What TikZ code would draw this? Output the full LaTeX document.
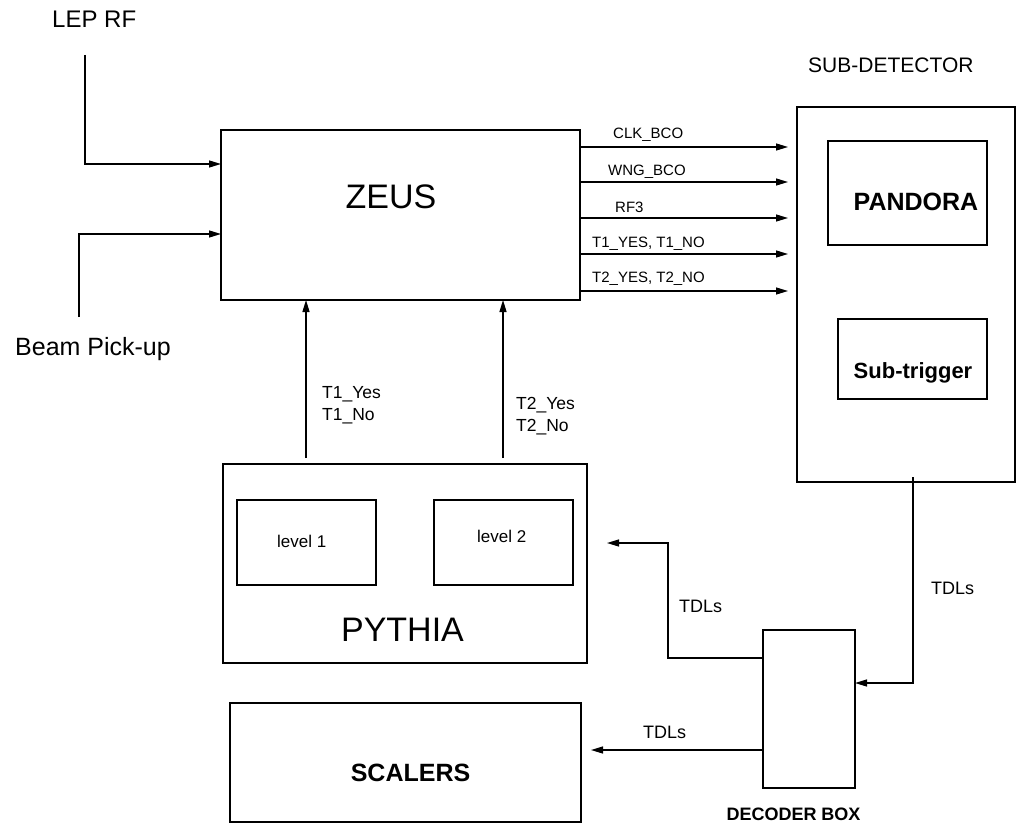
\documentclass[tikz,border=0pt]{standalone}
\usepackage{fontspec}
\setmainfont{Liberation Sans}
\usetikzlibrary{arrows.meta,calc}
\newcommand\fsz[1]{\fontsize{#1}{#1}\selectfont}

\begin{document}
\begin{tikzpicture}[x=1pt,y=-1pt,
  box/.style={draw, line width=1.3pt, inner sep=0pt, outer sep=0pt},
  wire/.style={line width=1.3pt},
  arr/.style={wire, -{Triangle[length=12pt,width=7pt]}},
  txt/.style={inner sep=0pt, anchor=base west},
  ctxt/.style={inner sep=0pt, anchor=base},
  sig/.style={txt, font=\fsz{15}},
  lbl/.style={txt, font=\fsz{17.5}},
  big/.style={ctxt, font=\fsz{34}},
  bold/.style={ctxt, font=\bfseries\fsz{25}}]
\useasboundingbox (0,0) rectangle (1016,832);

% blocks
\node[box, minimum width=359pt, minimum height=170pt] (zeus) at (400.5,215) {};
\node[box, minimum width=218pt, minimum height=375pt] (sub) at (906,294.5) {};
\node[box, minimum width=159pt, minimum height=104pt] (pandora) at (907.5,193) {};
\node[box, minimum width=149pt, minimum height=80pt] (subtrig) at (912.5,359) {};
\node[box, minimum width=364pt, minimum height=199pt] (pythia) at (405,563.5) {};
\node[box, minimum width=139pt, minimum height=85pt] (lvlone) at (306.5,542.5) {};
\node[box, minimum width=139pt, minimum height=85pt] (lvltwo) at (503.5,542.5) {};
\node[box, minimum width=351pt, minimum height=119pt] (scalers) at (405.5,762.5) {};
\node[box, minimum width=92pt, minimum height=158pt] (decoder) at (809,709) {};

% block texts
\node[big] (zeusT) at (391,208) {ZEUS};
\node[big] (pythiaT) at (402.5,641) {PYTHIA};
\node[bold] (pandoraT) at (916,210) {PANDORA};
\node[bold] (scalersT) at (410.5,781) {SCALERS};
\node[ctxt, font=\bfseries\fsz{22}] (subtrigT) at (913,378) {Sub-trigger};
\node[ctxt, font=\bfseries\fsz{18}] (decoderT) at (793.5,820) {DECODER BOX};
\node[txt, font=\fsz{17}] (lvloneT) at (277,547) {level 1};
\node[txt, font=\fsz{17}] (lvltwoT) at (477,542) {level 2};
\node[txt, font=\fsz{21}] (subT) at (808,73) {SUB-DETECTOR};
\node[txt, font=\fsz{24}] (lepT) at (52,28) {LEP RF};
\node[txt, font=\fsz{25}] (beamT) at (15,355) {Beam Pick-up};

% external inputs to ZEUS
\coordinate (lepsrc) at (85,55);
\coordinate (beamsrc) at (79,317);
\draw[arr] (lepsrc) |- ($(zeus.north west)+(0,34)$);
\draw[arr] (beamsrc) |- ($(zeus.north west)+(0,104)$);

% ZEUS outputs towards the sub-detector
\foreach \yy/\nm in {147/oa,182/ob,218/oc,254/od,291/oe}{
  \coordinate (\nm) at ($(sub.north west)+(-9,\yy-107)$);
  \draw[arr] (zeus.east |- \nm) -- (\nm);
}
\node[sig] (clk) at (613,139) {CLK\_BCO};
\node[sig] (wng) at (608,175) {WNG\_BCO};
\node[sig] (rf3) at (615,212) {RF3};
\node[sig] (tone) at (592,247) {T1\_YES, T1\_NO};
\node[sig] (ttwo) at (592,282) {T2\_YES, T2\_NO};

% PYTHIA decisions up to ZEUS
\coordinate (upa) at ($(pythia.north west)+(83,-6)$);
\coordinate (upb) at ($(pythia.north west)+(280,-6)$);
\draw[arr] (upa) -- (upa |- zeus.south);
\draw[arr] (upb) -- (upb |- zeus.south);
\node[lbl] (tya) at (322,398) {T1\_Yes};
\node[lbl] (tna) at (322,420) {T1\_No};
\node[lbl] (tyb) at (516,409) {T2\_Yes};
\node[lbl] (tnb) at (516,431) {T2\_No};

% TDL paths through the decoder box
\coordinate (tdlsrc) at ($(sub.south)+(7,-5)$);
\draw[arr] (tdlsrc) |- ($(decoder.east)+(0,-26)$);
\draw[arr] ($(decoder.west)+(0,-51)$) -- ++(-95,0) |- ($(pythia.east)+(20,-20.5)$);
\draw[arr] ($(decoder.west)+(0,41)$) -- ($(scalers.east)+(10,-12.5)$);
\node[txt, font=\fsz{18}] (tdla) at (931,594) {TDLs};
\node[txt, font=\fsz{18}] (tdlb) at (679,612) {TDLs};
\node[txt, font=\fsz{18}] (tdlc) at (643,738) {TDLs};
\end{tikzpicture}
\end{document}
